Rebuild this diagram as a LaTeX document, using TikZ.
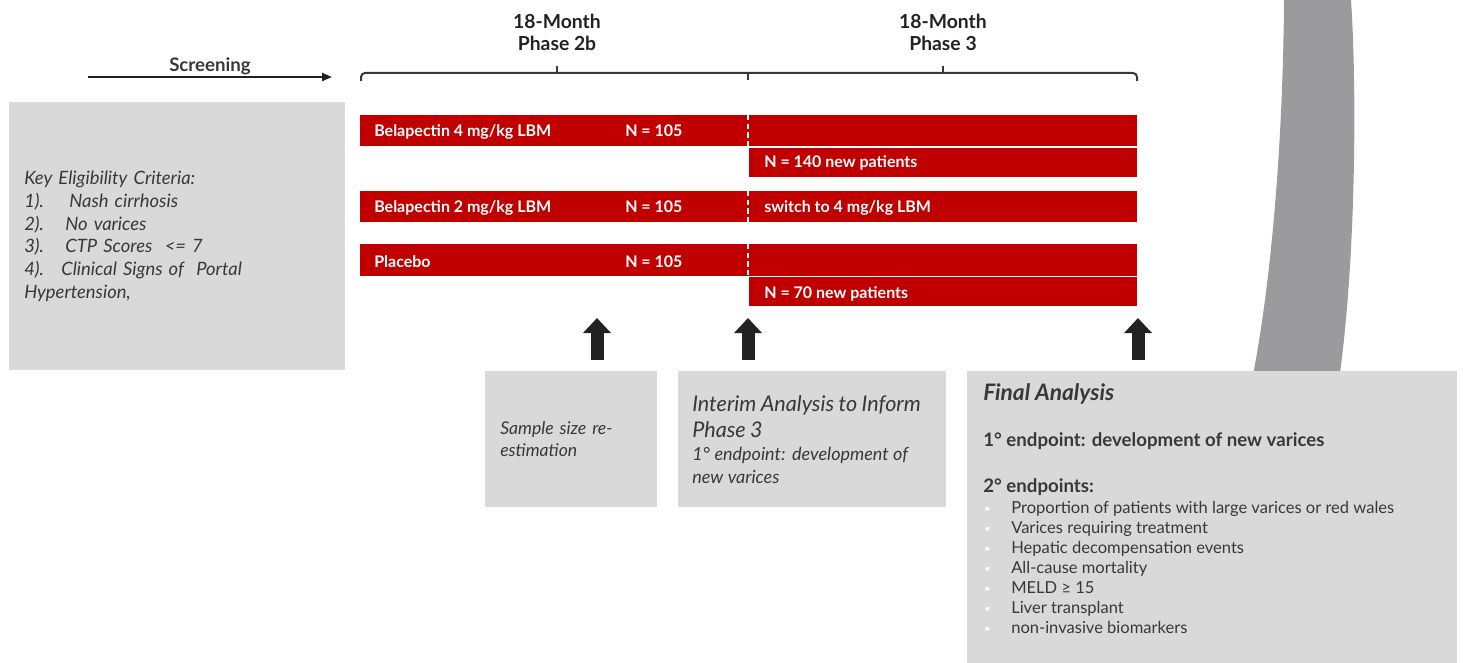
\documentclass[tikz,border=0pt]{standalone}
\usepackage{fontspec}
\setmainfont{Lato}
\usetikzlibrary{arrows.meta,positioning}
\definecolor{barred}{HTML}{C00000}
\definecolor{boxgray}{HTML}{D9D9D9}
\definecolor{archgray}{HTML}{9B9B9D}
\definecolor{txtgray}{HTML}{383838}
\definecolor{inkdark}{HTML}{222222}

\begin{document}
\begin{tikzpicture}[x=0.75pt, y=-0.75pt,
    bar/.style={fill=barred, anchor=north west, inner sep=0pt},
    bartext/.style={anchor=base west, inner sep=0pt, text=white, font=\bfseries\fontsize{12}{14}\selectfont},
    infobox/.style={fill=boxgray, anchor=north west, inner xsep=11.25pt, inner ysep=0pt, align=left, text=txtgray},
    phase/.style={anchor=north, inner sep=0pt, align=center, text=inkdark, font=\bfseries\fontsize{14.5}{16.5}\selectfont},
    upmark/.style={draw=inkdark, line width=9.75pt, -{Triangle[width=20.25pt, length=11.25pt]}},
    endpoint/.style={anchor=base west, inner sep=0pt, text=txtgray}]
    \useasboundingbox (0,0) rectangle (1463,663);

    % grey band behind the final box
    \fill[archgray] (1284,0) .. controls (1283,150) and (1270,290) .. (1252,380)
        -- (1339,380) .. controls (1356,260) and (1357,90) .. (1351,0) -- cycle;

    % screening
    \coordinate (s1) at (88,77);
    \coordinate (s2) at (332,77);
    \draw[inkdark, line width=1.5pt, -{Triangle[length=7.5pt, width=6pt]}] (s1) -- (s2)
        node[midway, above=1pt, inner sep=0pt, font=\bfseries\fontsize{14}{16}\selectfont, text=txtgray] (scr) {Screening};

    % phase headers and brackets
    \node[phase] (ph2) at (557,14) {18-Month\\Phase 2b};
    \node[phase] (ph3) at (943,14) {18-Month\\Phase 3};
    \draw[txtgray, line width=1.5pt, rounded corners=3pt]
        (361,81) -- (361,73) -- (748,73) -- (1137,73) -- (1137,81);
    \draw[txtgray, line width=1.5pt] (748,73) -- (748,80);
    \draw[txtgray, line width=1.5pt] (557,73) -- (557,66);
    \draw[txtgray, line width=1.5pt] (943,73) -- (943,66);

    % treatment arms
    \node[bar, minimum width=582.75pt, minimum height=23.25pt] (b1) at (360,115) {};
    \node[bar, minimum width=291pt, minimum height=21.75pt] (b2) at (749,148) {};
    \node[bar, minimum width=582.75pt, minimum height=23.25pt] (b3) at (360,191) {};
    \node[bar, minimum width=582.75pt, minimum height=24pt] (b4) at (360,244) {};
    \node[bar, minimum width=291pt, minimum height=21.75pt] (b5) at (749,277) {};
    \foreach \top/\bot in {115/146, 191/222, 244/276}
        \draw[white, line width=1.2pt, dash pattern=on 4pt off 2.5pt] (748,\top) -- (748,\bot);

    \node[bartext] (l1) at (374,137) {Belapectin 4 mg/kg LBM};
    \node[bartext] (n1) at (625,137) {N = 105};
    \node[bartext] (l2) at (764,168) {N = 140 new patients};
    \node[bartext] (l3) at (374,213) {Belapectin 2 mg/kg LBM};
    \node[bartext] (n3) at (625,213) {N = 105};
    \node[bartext] (l3b) at (764,213) {switch to 4 mg/kg LBM};
    \node[bartext] (l4) at (374,267) {Placebo};
    \node[bartext] (n4) at (625,267) {N = 105};
    \node[bartext] (l5) at (764,298) {N = 70 new patients};

    % eligibility
    \node[infobox, text width=229.5pt, minimum height=201pt,
        font=\itshape\fontsize{13.8}{17}\selectfont] (crit) at (9,102)
        {Key Eligibility Criteria:\\
         1).\hspace{19pt}Nash cirrhosis\\
         2).\hspace{16pt}No varices\\
         3).\hspace{16pt}CTP Scores\ \ <= 7\\
         4).\hspace{13pt}Clinical Signs of\ \ Portal\\
         Hypertension,};

    % analyses
    \node[infobox, text width=106.5pt, minimum height=102pt,
        font=\itshape\fontsize{13.2}{16.5}\selectfont] (ssr) at (485,371)
        {Sample size re-\\estimation};
    \node[infobox, text width=180pt, inner xsep=10.5pt, minimum height=102pt, font=\itshape] (ia) at (678,371)
        {{\fontsize{16.2}{20}\selectfont Interim Analysis to Inform\\Phase 3\par}
         {\fontsize{13.5}{17}\selectfont 1° endpoint: development of\\new varices\par}};
    \node[infobox, minimum width=367.5pt, minimum height=225pt] (fa) at (967,371) {};

    \node[endpoint, font=\bfseries\itshape\fontsize{17}{19}\selectfont] (fat) at (983,400) {Final Analysis};
    \node[endpoint, font=\bfseries\fontsize{14}{16}\selectfont] (pri) at (983,446) {1° endpoint: development of new varices};
    \node[endpoint, font=\bfseries\fontsize{14}{16}\selectfont] (sec) at (983,492) {2° endpoints:};
    \foreach \txt [count=\i] in {Proportion of patients with large varices or red wales,
        Varices requiring treatment, Hepatic decompensation events, All-cause mortality,
        MELD ≥ 15, Liver transplant, non-invasive biomarkers}
    {
        \node[endpoint, text=white, font=\fontsize{8}{10}\selectfont] (dot\i) at (984,{512+20.1*(\i-1)}) {•};
        \node[endpoint, font=\fontsize{12.4}{14}\selectfont] (it\i) at (1011,{513+20.1*(\i-1)}) {\txt};
    }

    % timing arrows
    \coordinate (a1) at (597,360);
    \coordinate (a1t) at (597,318);
    \coordinate (a2) at (748,360);
    \coordinate (a2t) at (748,318);
    \coordinate (a3) at (1138,360);
    \coordinate (a3t) at (1138,318);
    \draw[upmark] (a1) -- (a1t);
    \draw[upmark] (a2) -- (a2t);
    \draw[upmark] (a3) -- (a3t);
\end{tikzpicture}
\end{document}
